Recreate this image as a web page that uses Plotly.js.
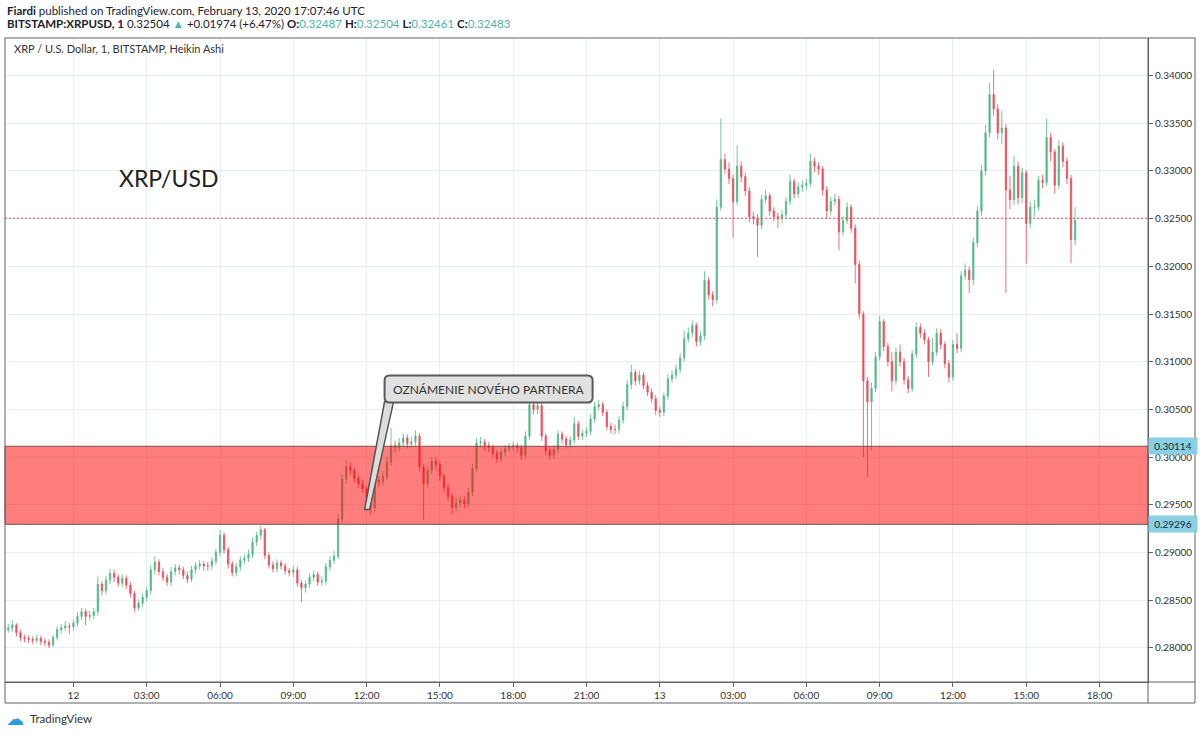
<!DOCTYPE html>
<html><head><meta charset="utf-8">
<script src="https://cdn.plot.ly/plotly-3.0.1.min.js"></script>
<style>html,body{margin:0;padding:0;background:#fff;}#chart{width:1200px;height:734px;}</style>
</head><body><div id="chart"></div>
<script>
// ---- data: XRP/USD Heikin Ashi, 10-minute candles ----
const startTime = '2020-02-11T21:10:00Z';
const intervalMinutes = 10;

const haOpen = [
.2822,.2819,.2821,.2824,.2816,.2811,.2810,.2809,.2808,.2810,
.2807,.2806,.2803,.2811,.2819,.2821,.2823,.2822,.2826,.2833,
.2838,.2833,.2834,.2838,.2867,.2860,.2871,.2878,.2874,.2868,
.2873,.2866,.2857,.2842,.2847,.2853,.2860,.2882,.2890,.2880,
.2874,.2869,.2880,.2884,.2882,.2876,.2872,.2882,.2886,.2888,
.2886,.2886,.2891,.2900,.2918,.2903,.2888,.2879,.2885,.2892,
.2894,.2898,.2911,.2918,.2924,.2897,.2887,.2883,.2889,.2886,
.2881,.2879,.2882,.2868,.2863,.2867,.2874,.2877,.2869,.2870,
.2885,.2892,.2896,.2935,.2977,.2990,.2986,.2978,.2972,.2967,
.2953,.2947,.2976,.2974,.2980,.2995,.3012,.3010,.3015,.3020,
.3014,.3016,.3022,.2990,.2972,.2986,.2996,.2992,.2980,.2968,
.2959,.2947,.2952,.2955,.2951,.2963,.2988,.3015,.3016,.3012,
.3010,.3004,.2998,.3005,.3009,.3011,.3012,.3010,.3002,.3022,
.3055,.3050,.3054,.3022,.3007,.3002,.3008,.3024,.3019,.3013,
.3018,.3035,.3022,.3025,.3027,.3040,.3053,.3055,.3047,.3032,
.3029,.3029,.3039,.3053,.3076,.3089,.3080,.3086,.3075,.3068,
.3061,.3049,.3047,.3064,.3082,.3086,.3092,.3104,.3124,.3130,
.3138,.3121,.3127,.3185,.3170,.3165,.3262,.3312,.3302,.3292,
.3268,.3305,.3294,.3279,.3252,.3250,.3243,.3270,.3274,.3258,
.3252,.3250,.3254,.3268,.3289,.3276,.3283,.3285,.3287,.3310,
.3305,.3302,.3280,.3258,.3268,.3270,.3236,.3248,.3262,.3240,
.3202,.3150,.3080,.3058,.3072,.3105,.3142,.3116,.3100,.3080,
.3110,.3100,.3081,.3072,.3108,.3136,.3130,.3123,.3100,.3110,
.3130,.3118,.3098,.3084,.3118,.3114,.3190,.3196,.3186,.3225,
.3258,.3300,.3340,.3380,.3365,.3340,.3345,.3280,.3270,.3305,
.3272,.3298,.3245,.3262,.3262,.3290,.3288,.3335,.3320,.3285,
.3326,.3310,.3292,.3228];

const haHigh = [
.2826,.2825,.2829,.2826,.2819,.2814,.2813,.2812,.2814,.2813,
.2810,.2809,.2814,.2823,.2825,.2828,.2826,.2830,.2838,.2842,
.2841,.2839,.2842,.2875,.2870,.2875,.2883,.2882,.2877,.2877,
.2876,.2869,.2860,.2851,.2857,.2864,.2887,.2896,.2893,.2884,
.2878,.2885,.2888,.2887,.2885,.2880,.2886,.2890,.2892,.2891,
.2890,.2895,.2904,.2924,.2921,.2906,.2891,.2889,.2896,.2898,
.2903,.2916,.2922,.2928,.2926,.2900,.2891,.2893,.2892,.2889,
.2884,.2886,.2885,.2871,.2871,.2878,.2881,.2880,.2875,.2889,
.2896,.2902,.2940,.2982,.2997,.2995,.2989,.2981,.2976,.2970,
.2957,.2980,.2980,.2985,.3000,.3031,.3017,.3020,.3025,.3024,
.3021,.3028,.3025,.2993,.2990,.3000,.3000,.2995,.2983,.2972,
.2962,.2957,.2960,.2959,.2968,.2993,.3020,.3021,.3019,.3016,
.3013,.3008,.3009,.3013,.3015,.3016,.3015,.3013,.3027,.3065,
.3060,.3059,.3057,.3025,.3010,.3012,.3028,.3027,.3022,.3022,
.3042,.3038,.3029,.3031,.3045,.3058,.3060,.3058,.3050,.3036,
.3034,.3043,.3058,.3081,.3097,.3092,.3091,.3089,.3079,.3072,
.3065,.3053,.3068,.3087,.3091,.3097,.3109,.3133,.3136,.3143,
.3141,.3132,.3195,.3189,.3174,.3270,.3355,.3318,.3309,.3296,
.3327,.3310,.3298,.3283,.3257,.3255,.3275,.3280,.3277,.3262,
.3256,.3259,.3273,.3296,.3292,.3288,.3290,.3292,.3318,.3314,
.3309,.3305,.3284,.3273,.3276,.3274,.3253,.3267,.3265,.3244,
.3206,.3153,.3084,.3078,.3110,.3148,.3145,.3120,.3110,.3115,
.3118,.3104,.3085,.3112,.3141,.3140,.3134,.3126,.3125,.3135,
.3134,.3121,.3102,.3123,.3130,.3195,.3203,.3200,.3230,.3263,
.3306,.3348,.3392,.3406,.3370,.3363,.3349,.3295,.3316,.3310,
.3303,.3301,.3268,.3270,.3295,.3296,.3355,.3340,.3323,.3332,
.3330,.3314,.3296,.3262];

const haLow = [
.2815,.2816,.2817,.2812,.2807,.2806,.2805,.2804,.2805,.2803,
.2802,.2800,.2801,.2808,.2815,.2818,.2815,.2818,.2822,.2829,
.2824,.2829,.2830,.2834,.2855,.2856,.2867,.2869,.2864,.2864,
.2862,.2853,.2838,.2839,.2843,.2849,.2856,.2877,.2876,.2870,
.2865,.2865,.2876,.2877,.2872,.2868,.2869,.2878,.2882,.2881,
.2881,.2882,.2887,.2896,.2899,.2883,.2875,.2875,.2881,.2888,
.2890,.2894,.2907,.2913,.2893,.2883,.2879,.2879,.2882,.2877,
.2875,.2874,.2864,.2848,.2858,.2863,.2870,.2865,.2865,.2866,
.2881,.2888,.2893,.2931,.2972,.2981,.2973,.2968,.2963,.2949,
.2939,.2943,.2969,.2970,.2976,.2991,.3005,.3006,.3011,.3009,
.3010,.3012,.2985,.2934,.2968,.2982,.2987,.2975,.2963,.2954,
.2940,.2943,.2947,.2946,.2947,.2959,.2984,.3010,.3007,.3005,
.2999,.2994,.2994,.3001,.3005,.3007,.3005,.2997,.2998,.3018,
.3045,.3045,.3017,.3002,.2997,.2998,.3004,.3014,.3009,.3009,
.3014,.3018,.3018,.3021,.3023,.3036,.3049,.3043,.3028,.3025,
.3024,.3025,.3035,.3049,.3071,.3075,.3076,.3071,.3064,.3057,
.3044,.3042,.3043,.3060,.3078,.3082,.3088,.3100,.3120,.3126,
.3116,.3117,.3123,.3165,.3158,.3161,.3258,.3297,.3286,.3230,
.3264,.3288,.3274,.3246,.3244,.3210,.3239,.3266,.3253,.3247,
.3240,.3245,.3250,.3264,.3271,.3272,.3278,.3280,.3283,.3299,
.3296,.3274,.3250,.3254,.3264,.3217,.3232,.3244,.3235,.3182,
.3145,.3000,.2979,.3007,.3068,.3101,.3111,.3095,.3069,.3076,
.3095,.3076,.3067,.3068,.3104,.3125,.3118,.3084,.3096,.3106,
.3113,.3093,.3078,.3080,.3109,.3110,.3186,.3172,.3180,.3220,
.3253,.3295,.3335,.3358,.3333,.3328,.3172,.3260,.3264,.3265,
.3266,.3203,.3240,.3252,.3258,.3282,.3284,.3310,.3276,.3281,
.3304,.3286,.3203,.3222];

const haClose = [
.2819,.2821,.2824,.2816,.2811,.2810,.2809,.2808,.2810,.2807,
.2806,.2803,.2811,.2819,.2821,.2823,.2822,.2826,.2833,.2838,
.2833,.2834,.2838,.2867,.2860,.2871,.2878,.2874,.2868,.2873,
.2866,.2857,.2842,.2847,.2853,.2860,.2882,.2890,.2880,.2874,
.2869,.2880,.2884,.2882,.2876,.2872,.2882,.2886,.2888,.2886,
.2886,.2891,.2900,.2918,.2903,.2888,.2879,.2885,.2892,.2894,
.2898,.2911,.2918,.2924,.2897,.2887,.2883,.2889,.2886,.2881,
.2879,.2882,.2868,.2863,.2867,.2874,.2877,.2869,.2870,.2885,
.2892,.2896,.2935,.2977,.2990,.2986,.2978,.2972,.2967,.2953,
.2947,.2976,.2974,.2980,.2995,.3012,.3010,.3015,.3020,.3014,
.3016,.3022,.2990,.2972,.2986,.2996,.2992,.2980,.2968,.2959,
.2947,.2952,.2955,.2951,.2963,.2988,.3015,.3016,.3012,.3010,
.3004,.2998,.3005,.3009,.3011,.3012,.3010,.3002,.3022,.3055,
.3050,.3054,.3022,.3007,.3002,.3008,.3024,.3019,.3013,.3018,
.3035,.3022,.3025,.3027,.3040,.3053,.3055,.3047,.3032,.3029,
.3029,.3039,.3053,.3076,.3089,.3080,.3086,.3075,.3068,.3061,
.3049,.3047,.3064,.3082,.3086,.3092,.3104,.3124,.3130,.3138,
.3121,.3127,.3185,.3170,.3165,.3262,.3312,.3302,.3292,.3268,
.3305,.3294,.3279,.3252,.3250,.3243,.3270,.3274,.3258,.3252,
.3250,.3254,.3268,.3289,.3276,.3283,.3285,.3287,.3310,.3305,
.3302,.3280,.3258,.3268,.3270,.3236,.3248,.3262,.3240,.3202,
.3150,.3080,.3058,.3072,.3105,.3142,.3116,.3100,.3080,.3110,
.3100,.3081,.3072,.3108,.3136,.3130,.3123,.3100,.3110,.3130,
.3118,.3098,.3084,.3118,.3114,.3190,.3196,.3186,.3225,.3258,
.3300,.3340,.3380,.3365,.3340,.3345,.3280,.3270,.3305,.3272,
.3298,.3245,.3262,.3262,.3290,.3288,.3335,.3320,.3285,.3326,
.3310,.3292,.3228,.3248];

const xTickVals = ['2020-02-12 00:00','2020-02-12 03:00','2020-02-12 06:00','2020-02-12 09:00',
  '2020-02-12 12:00','2020-02-12 15:00','2020-02-12 18:00','2020-02-12 21:00',
  '2020-02-13 00:00','2020-02-13 03:00','2020-02-13 06:00','2020-02-13 09:00',
  '2020-02-13 12:00','2020-02-13 15:00','2020-02-13 18:00'];
const xTickText = ['12','03:00','06:00','09:00','12:00','15:00','18:00','21:00',
  '13','03:00','06:00','09:00','12:00','15:00','18:00'];
const xRange = ['2020-02-11 21:12','2020-02-13 19:59'];
const yRange = [0.27643, 0.34393];

const zoneTop = 0.30114, zoneBottom = 0.29296;
const lastPrice = 0.32504;
const calloutTime = '2020-02-12 12:00', calloutPrice = 0.2945;
const calloutText = 'OZNÁMENIE NOVÉHO PARTNERA';
const pairTitle = 'XRP/USD';
const seriesTitle = 'XRP / U.S. Dollar, 1, BITSTAMP, Heikin Ashi';
const headerLine1 = '<b>Fiardi</b> published on TradingView.com, February 13, 2020 17:07:46 UTC';
const quote = {last:'0.32504', chg:'+0.01974 (+6.47%)', o:'0.32487', h:'0.32504', l:'0.32461', c:'0.32483'};

// ---- build ----
const t0 = Date.parse(startTime);
const times = haClose.map((_, i) =>
  new Date(t0 + i * intervalMinutes * 60000).toISOString().slice(0, 19).replace('T', ' '));

const UP = '#53b987', DOWN = '#eb4d5c', TEAL = '#4fb3ad';
const FONT = 'Lato, "Open Sans", sans-serif';
const FRAME = '#5f6266';
const GRID = '#e8eff3';

const trace = {
  type: 'candlestick', x: times, open: haOpen, high: haHigh, low: haLow, close: haClose,
  increasing: {line: {color: UP, width: 0.8}, fillcolor: UP},
  decreasing: {line: {color: DOWN, width: 0.8}, fillcolor: DOWN},
  whiskerwidth: 0, hoverinfo: 'skip', showlegend: false
};

const W = 1143, H = 644;
const px = x => (x - 5) / W;          // page x -> paper x
const py = y => 1 - (y - 38) / H;     // page y -> paper y

const line2 = '<b>BITSTAMP:XRPUSD, 1</b> ' + quote.last +
  ' <span style="color:' + TEAL + '">▲</span> ' + quote.chg +
  ' <b>O:</b><span style="color:' + TEAL + '">' + quote.o + '</span>' +
  ' <b>H:</b><span style="color:' + TEAL + '">' + quote.h + '</span>' +
  ' <b>L:</b><span style="color:' + TEAL + '">' + quote.l + '</span>' +
  ' <b>C:</b><span style="color:' + TEAL + '">' + quote.c + '</span>';

const layout = {
  width: 1200, height: 734,
  margin: {l: 5, r: 52, t: 38, b: 52},
  paper_bgcolor: '#ffffff', plot_bgcolor: '#ffffff',
  font: {family: FONT, color: '#333'},
  showlegend: false, hovermode: false, dragmode: false,
  boxgap: 0.55,
  xaxis: {
    type: 'date', range: xRange, rangeslider: {visible: false},
    tickmode: 'array', tickvals: xTickVals, ticktext: xTickText,
    showgrid: true, gridcolor: GRID, gridwidth: 1,
    ticks: 'outside', ticklen: 4, tickcolor: FRAME,
    showline: true, linecolor: FRAME, linewidth: 1, zeroline: false,
    tickfont: {family: FONT, size: 10, color: '#333'}
  },
  yaxis: {
    side: 'right', range: yRange, tick0: 0.28, dtick: 0.005, tickformat: '.5f',
    showgrid: true, gridcolor: GRID, gridwidth: 1,
    ticks: 'outside', ticklen: 4, tickcolor: FRAME,
    showline: true, linecolor: FRAME, linewidth: 1, zeroline: false,
    tickfont: {family: FONT, size: 10, color: '#333'}
  },
  shapes: [
    {type: 'line', xref: 'paper', x0: 0, x1: 1, yref: 'y', y0: lastPrice, y1: lastPrice,
     line: {color: '#e4505c', width: 1, dash: '2px,2px'}, layer: 'above'},
    {type: 'rect', xref: 'paper', x0: 0, x1: 1, yref: 'y', y0: zoneBottom, y1: zoneTop,
     fillcolor: 'rgba(255,5,5,0.52)', line: {color: '#7b5050', width: 1}, layer: 'above'},
    // frame
    {type: 'rect', xref: 'paper', yref: 'paper', x0: 0, x1: 1, y0: 0, y1: 1, line: {color: FRAME, width: 1}},
    {type: 'line', xref: 'paper', yref: 'paper', x0: 1, x1: px(1195), y0: 1, y1: 1, line: {color: FRAME, width: 1}},
    {type: 'line', xref: 'paper', yref: 'paper', x0: px(1195), x1: px(1195), y0: py(703), y1: 1, line: {color: FRAME, width: 1}},
    {type: 'line', xref: 'paper', yref: 'paper', x0: 0, x1: px(1195), y0: py(703), y1: py(703), line: {color: FRAME, width: 1}},
    {type: 'line', xref: 'paper', yref: 'paper', x0: 0, x1: 0, y0: py(703), y1: 0, line: {color: FRAME, width: 1}},
    {type: 'line', xref: 'paper', yref: 'paper', x0: 1, x1: 1, y0: py(703), y1: 0, line: {color: FRAME, width: 1}},
    {type: 'line', xref: 'paper', yref: 'paper', x0: 1, x1: px(1195), y0: 0, y1: 0, line: {color: FRAME, width: 1}},
    // callout wedge and box
    {type: 'path', xref: 'x', yref: 'y', xsizemode: 'pixel', ysizemode: 'pixel',
     xanchor: calloutTime, yanchor: calloutPrice,
     path: 'M-2,0 L18,108 L27,108 L3,0 Z',
     fillcolor: '#dcdcdc', line: {color: '#555', width: 1.5}, layer: 'above'},
    {type: 'path', xref: 'x', yref: 'y', xsizemode: 'pixel', ysizemode: 'pixel',
     xanchor: calloutTime, yanchor: calloutPrice,
     path: 'M23,107 L221,107 Q226,107 226,112 L226,129 Q226,134 221,134 L23,134 Q18,134 18,129 L18,112 Q18,107 23,107 Z',
     fillcolor: '#e1e1e1', line: {color: '#5a5a5a', width: 2}, layer: 'above'}
  ],
  annotations: [
    {xref: 'paper', yref: 'paper', x: 0, y: py(10), xanchor: 'left', yanchor: 'middle', showarrow: false,
     text: headerLine1, font: {family: FONT, size: 11.5, color: '#1e222d'}},
    {xref: 'paper', yref: 'paper', x: 0, y: py(24), xanchor: 'left', yanchor: 'middle', showarrow: false,
     text: line2, font: {family: FONT, size: 11.5, color: '#1e222d'}},
    {xref: 'paper', yref: 'paper', x: px(12), y: py(49), xanchor: 'left', yanchor: 'middle', showarrow: false,
     text: seriesTitle, font: {family: FONT, size: 11, color: '#333'}},
    {xref: 'paper', yref: 'paper', x: px(168), y: py(178), xanchor: 'center', yanchor: 'middle', showarrow: false,
     text: pairTitle, font: {family: FONT, size: 23, color: '#222'}},
    {xref: 'x', yref: 'y', x: calloutTime, y: calloutPrice, xshift: 122, yshift: 120.5,
     xanchor: 'center', yanchor: 'middle', showarrow: false,
     text: calloutText, font: {family: FONT, size: 12, color: '#333'}},
    {xref: 'paper', yref: 'y', x: 1, y: zoneTop, xanchor: 'left', yanchor: 'middle', showarrow: false,
     text: zoneTop.toFixed(5), bgcolor: '#8ad0e2', borderpad: 2, width: 44,
     font: {family: FONT, size: 10, color: '#0e2a40'}},
    {xref: 'paper', yref: 'y', x: 1, y: zoneBottom, xanchor: 'left', yanchor: 'middle', showarrow: false,
     text: zoneBottom.toFixed(5), bgcolor: '#8ad0e2', borderpad: 2, width: 44,
     font: {family: FONT, size: 10, color: '#0e2a40'}},
    {xref: 'paper', yref: 'paper', x: px(15), y: py(718), xanchor: 'center', yanchor: 'middle', showarrow: false,
     text: '☁', font: {family: '"DejaVu Sans", sans-serif', size: 18, color: '#2f9ae0'}},
    {xref: 'paper', yref: 'paper', x: px(28), y: py(718), xanchor: 'left', yanchor: 'middle', showarrow: false,
     text: 'TradingView', font: {family: FONT, size: 11.5, color: '#333'}}
  ]
};

Plotly.newPlot('chart', [trace], layout, {staticPlot: true, displayModeBar: false});
</script>
</body></html>
